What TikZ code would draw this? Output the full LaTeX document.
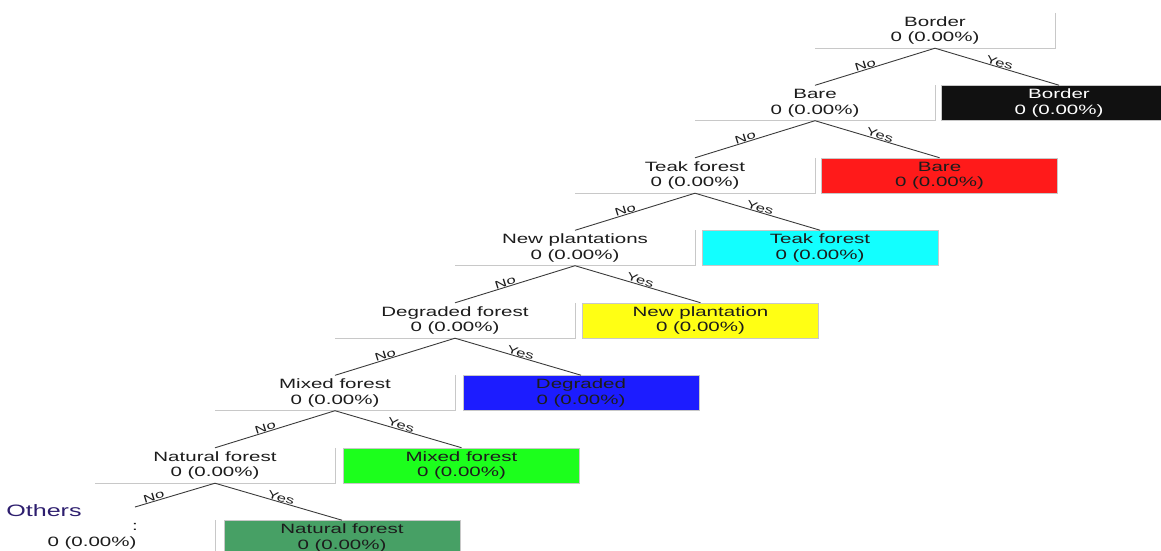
\documentclass[tikz,border=0pt]{standalone}
\usepackage{fontspec}
\setmainfont[FakeStretch=1.52]{Liberation Sans}
\definecolor{txt}{HTML}{1C1C1C}
\definecolor{edgec}{HTML}{3A3A3A}
\definecolor{boxline}{HTML}{C8C8C8}
\definecolor{leafred}{HTML}{FF1A1A}
\definecolor{leafcyan}{HTML}{12FFFF}
\definecolor{leafyellow}{HTML}{FFFF14}
\definecolor{leafblue}{HTML}{1C1CFF}
\definecolor{leafgreen}{HTML}{1CFF1C}
\definecolor{leafsea}{HTML}{47A065}
\definecolor{leafblack}{HTML}{111111}
\definecolor{othc}{RGB}{45,30,110}
\begin{document}
\begin{tikzpicture}[x=1pt,y=-1pt,
  dec/.style={minimum width=240pt,minimum height=35pt,inner sep=0pt,align=center,
    font=\fontsize{13.5}{15.5}\selectfont,text=txt},
  leaf/.style={minimum width=236pt,minimum height=35pt,inner sep=0pt,align=center,
    font=\fontsize{13.5}{15.5}\selectfont,draw=boxline,line width=0.6pt},
  dline/.style={draw=boxline,line width=0.9pt},
  edge/.style={draw=edgec,line width=0.9pt},
  elab/.style={sloped,anchor=south,inner sep=0.3pt,font=\fontsize{11}{11}\selectfont,text=txt},
  plain/.style={inner sep=0pt,font=\fontsize{13.5}{15.5}\selectfont,text=txt}]
\useasboundingbox (0,0) rectangle (1161,550);
\clip (0,0) rectangle (1161,550);
% decision nodes
\foreach \k/\t in {0/Border,1/Bare,2/Teak forest,3/New plantations,4/Degraded forest,5/Mixed forest,6/Natural forest}
  \node[dec] (d\k) at ({935-120*\k},{13+72.5*\k+17.5}) {\t\\0 (0.00\%)};
\node[dec] (d7) at (95,538) {};
\foreach \k in {0,...,6}
  \draw[dline] (d\k.north east) -- (d\k.south east) -- (d\k.south west);
\draw[dline] (d7.north east) -- (d7.south east);
% leaves
\foreach \k/\t/\c/\tc in {0/Border/leafblack/white,1/Bare/leafred/txt,2/Teak forest/leafcyan/txt,3/New plantation/leafyellow/txt,4/Degraded/leafblue/txt,5/Mixed forest/leafgreen/txt,6/Natural forest/leafsea/txt}
  \node[leaf,fill=\c,text=\tc] (l\k) at ({1059-119.5*\k},{13+72.5*(\k+1)+17.5}) {\t\\0 (0.00\%)};
% edges
\foreach \k [evaluate=\k as \n using {int(\k+1)}] in {0,...,5}{
  \draw[edge] (d\k.south) -- (d\n.north) node[elab,pos=.57]{No};
  \draw[edge] (d\k.south) -- (l\k.north) node[elab,pos=.51]{Yes};
}
\coordinate (noend) at (135,507);
\draw[edge] (d6.south) -- (noend) node[elab,pos=.75]{No};
\draw[edge] (d6.south) -- (l6.north) node[elab,pos=.51]{Yes};
% others
\node[inner sep=0pt,font=\fontsize{16.5}{18}\selectfont,text=othc] (oth) at (44,511) {Others};
\node[plain] (colon) at (135,527) {:};
\node[plain] (othval) at (92,543) {0 (0.00\%)};
\end{tikzpicture}
\end{document}
